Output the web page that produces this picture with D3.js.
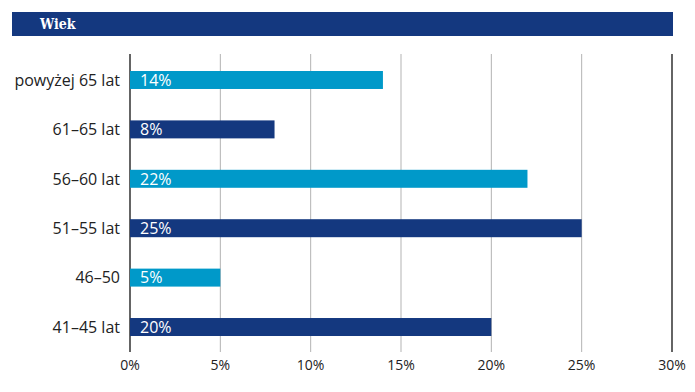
<!DOCTYPE html>
<html>
<head>
<meta charset="utf-8">
<script src="https://d3js.org/d3.v7.min.js"></script>
<style>
  body { margin: 0; background: #fff; }
  svg text { font-family: "Open Sans", "DejaVu Sans", sans-serif; }
</style>
</head>
<body>
<svg width="695" height="392"></svg>
<script>
// data (top to bottom)
var categories = ["powyżej 65 lat", "61–65 lat", "56–60 lat", "51–55 lat", "46–50", "41–45 lat"];
var values = [14, 8, 22, 25, 5, 20];
var barColors = ["#0099c9", "#14387f", "#0099c9", "#14387f", "#0099c9", "#14387f"];
var ticks = [0, 5, 10, 15, 20, 25, 30];
var title = "Wiek";

var svg = d3.select("svg");

// header band
svg.append("rect").attr("x", 12).attr("y", 12).attr("width", 661).attr("height", 24).attr("fill", "#14387f");
svg.append("text").attr("x", 40).attr("y", 29).text(title)
  .style("font-family", "'DejaVu Serif Condensed', 'DejaVu Serif', serif")
  .style("font-weight", "bold").style("font-size", "14px").attr("fill", "#fff");

var x = d3.scaleLinear().domain([0, 30]).range([130, 672]);
var y = d3.scaleBand().domain(categories).range([54, 353]).paddingInner(0.636).paddingOuter(0.344);

// gridlines
svg.append("g").selectAll("line").data(ticks).enter().append("line")
  .attr("x1", d => x(d)).attr("x2", d => x(d))
  .attr("y1", 54).attr("y2", 352)
  .attr("stroke", d => (d === 0 || d === 30) ? "#111" : "#b3b3b3")
  .attr("stroke-width", d => (d === 0 || d === 30) ? 1.3 : 1);

// bars
svg.append("g").selectAll("rect").data(values).enter().append("rect")
  .attr("x", x(0))
  .attr("y", (d, i) => y(categories[i]))
  .attr("width", d => x(d) - x(0))
  .attr("height", y.bandwidth())
  .attr("fill", (d, i) => barColors[i]);

// value labels
svg.append("g").selectAll("text").data(values).enter().append("text")
  .attr("x", x(0) + 10)
  .attr("y", (d, i) => y(categories[i]) + y.bandwidth() / 2)
  .attr("dy", "0.36em")
  .attr("fill", "#fff")
  .style("font-size", "16px")
  .text(d => d + "%");

// category labels
svg.append("g").selectAll("text").data(categories).enter().append("text")
  .attr("x", 120)
  .attr("y", d => y(d) + y.bandwidth() / 2)
  .attr("dy", "0.36em")
  .attr("text-anchor", "end")
  .attr("fill", "#222")
  .style("font-size", "16px")
  .text(d => d);

// x tick labels
svg.append("g").selectAll("text").data(ticks).enter().append("text")
  .attr("x", d => x(d))
  .attr("y", 365)
  .attr("dy", "0.36em")
  .attr("text-anchor", "middle")
  .attr("fill", "#222")
  .style("font-size", "14px")
  .text(d => d + "%");
</script>
</body>
</html>
